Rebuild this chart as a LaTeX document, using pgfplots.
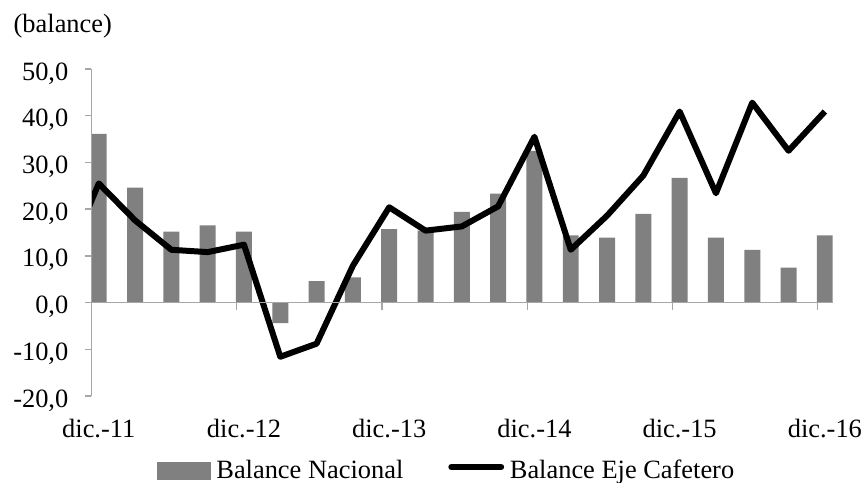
\documentclass[border=0pt]{standalone}
\usepackage{fontspec}
\setmainfont{Liberation Serif}
\usepackage{pgfplots}
\pgfplotsset{compat=1.18}
\definecolor{barcol}{RGB}{128,128,128}
\definecolor{axgray}{RGB}{166,166,166}
\newcommand\chartfont{\fontsize{26.5}{30}\selectfont}

\begin{document}
\begin{tikzpicture}
\begin{axis}[name=ax, at={(0,0)}, anchor=south west,
  scale only axis, width=741bp, height=327bp,
  xmin=-0.2, xmax=20.21, ymin=-20, ymax=50,
  axis x line=bottom, axis y line=left,
  x axis line style={draw=none},
  y axis line style={-, draw=axgray, line width=1.3bp},
  major tick length=0pt, tick style={draw=none},
  xtick={0,4,8,12,16,20},
  xticklabels={dic.-11,dic.-12,dic.-13,dic.-14,dic.-15,dic.-16},
  ytick={-20,-10,0,10,20,30,40,50},
  yticklabels={{-20,0},{-10,0},{0,0},{10,0},{20,0},{30,0},{40,0},{50,0}},
  tick label style={font=\chartfont, inner sep=0pt},
  xticklabel style={anchor=base, yshift=-41bp},
  yticklabel style={anchor=base east, xshift=-23bp, yshift=-11bp},
  clip mode=individual,
  legend columns=2, legend cell align=left,
  legend style={draw=none, fill=none, inner sep=0pt, outer sep=0pt,
    at={(axis description cs:0,0)}, anchor=north west,
    xshift=65.2bp, yshift=-64bp, font=\chartfont,
    nodes={inner sep=0pt, text height=18bp, text depth=6bp},
    /tikz/every odd column/.append style={column sep=5.7bp},
    /tikz/every even column/.append style={column sep=45bp}},
]
% Balance Nacional (bars)
\addplot[ybar, bar width=0.44, bar shift=0pt, fill=barcol, draw=none,
  legend image code/.code={\fill[barcol] (0bp,-8bp) rectangle (54bp,10bp);}]
  coordinates {
  (0,36.1) (1,24.6) (2,15.2) (3,16.5) (4,15.2) (5,-4.4) (6,4.6) (7,5.4)
  (8,15.7) (9,15.4) (10,19.4) (11,23.3) (12,32.5) (13,14.4) (14,13.9)
  (15,19.0) (16,26.7) (17,13.9) (18,11.3) (19,7.5) (20,14.4)};
\addlegendentry{Balance Nacional}
% Balance Eje Cafetero (line)
\addplot[black, line width=6bp, line join=round, mark=none,
  legend image code/.code={\draw[black, line width=6.5bp, line cap=round]
    (3.3bp,5bp) -- (52.7bp,5bp);}]
  coordinates {
  (-1,7.0) (0,25.5) (1,17.6) (2,11.3) (3,10.8) (4,12.4) (5,-11.6) (6,-8.8)
  (7,7.9) (8,20.4) (9,15.4) (10,16.3) (11,20.6) (12,35.5) (13,11.3)
  (14,18.6) (15,27.2) (16,40.9) (17,23.4) (18,42.8) (19,32.5) (20,40.9)};
\addlegendentry{Balance Eje Cafetero}
% axis lines and tick marks
\draw[axgray, line width=1.3bp] (axis cs:-0.2,0) -- (axis cs:20.21,0);
\draw[axgray, line width=1.3bp] (axis cs:-0.2,-20) -- (axis cs:-0.2,50);
\pgfplotsinvokeforeach{-20,-10,0,10,20,30,40,50}{
  \draw[axgray, line width=1.3bp] (axis cs:-0.2,#1) -- ++(-6.5bp,0bp);}
\pgfplotsinvokeforeach{3.8,7.8,11.8,15.8,19.8}{
  \draw[axgray, line width=1.3bp] (axis cs:#1,0) -- ++(0bp,-7.5bp);}
\node[anchor=base west, inner sep=0pt, font=\chartfont]
  at (axis description cs:0,1) [xshift=-78bp, yshift=36.5bp] {(balance)};
\end{axis}
\pgfresetboundingbox
\path[use as bounding box] (-91.5bp,-87bp) rectangle (775.5bp,396bp);
\end{tikzpicture}
\end{document}
